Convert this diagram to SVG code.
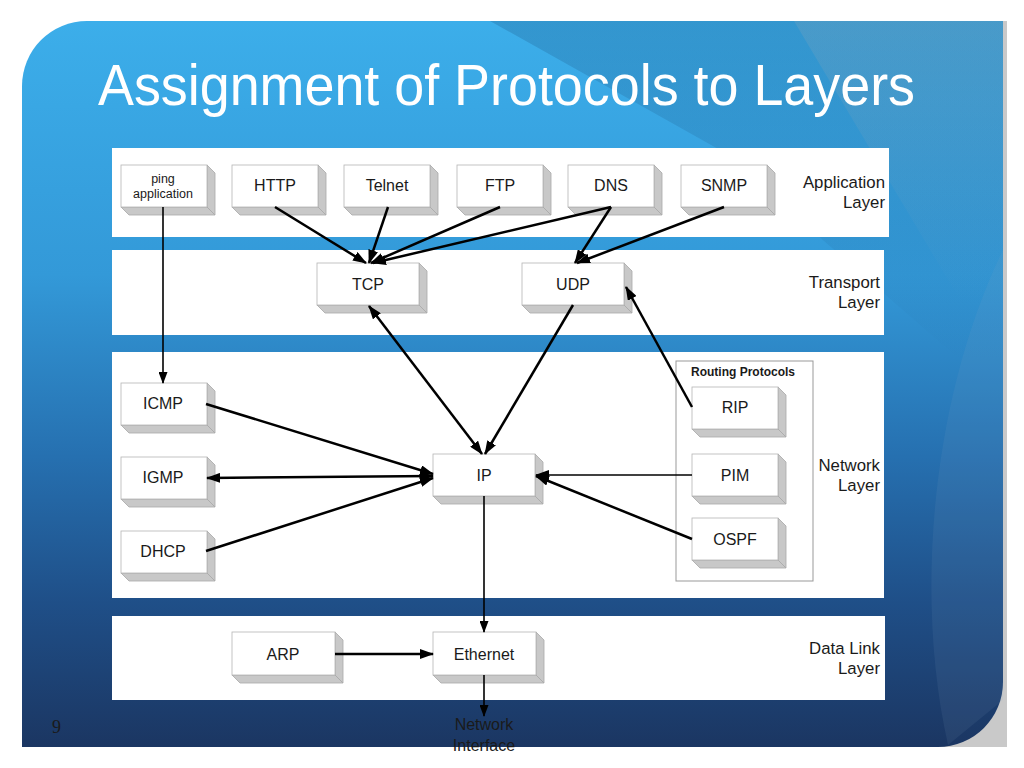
<svg xmlns="http://www.w3.org/2000/svg" xmlns:xlink="http://www.w3.org/1999/xlink" width="1024" height="768" viewBox="0 0 1024 768">
<defs>
<linearGradient id="bg" x1="0" y1="0" x2="0" y2="1">
<stop offset="0" stop-color="#3caeea"/>
<stop offset="0.35" stop-color="#3399d8"/>
<stop offset="0.6" stop-color="#2670b0"/>
<stop offset="0.8" stop-color="#1f4f88"/>
<stop offset="1" stop-color="#1b3662"/>
</linearGradient>
<linearGradient id="ov" gradientUnits="userSpaceOnUse" x1="0" y1="21" x2="0" y2="360">
<stop offset="0" stop-color="#1f5f90" stop-opacity="0.3"/>
<stop offset="0.6" stop-color="#1f5f90" stop-opacity="0.15"/>
<stop offset="1" stop-color="#1f5f90" stop-opacity="0"/>
</linearGradient>
<linearGradient id="ov2" gradientUnits="userSpaceOnUse" x1="0" y1="21" x2="0" y2="300">
<stop offset="0" stop-color="#8aa6b8" stop-opacity="0.25"/>
<stop offset="1" stop-color="#8aa6b8" stop-opacity="0"/>
</linearGradient>
<marker id="arr" markerUnits="userSpaceOnUse" markerWidth="14" markerHeight="10" refX="13" refY="5" orient="auto-start-reverse">
<path d="M0,0 L14,5 L0,10 Z" fill="#000"/>
</marker>
<marker id="arrS" markerUnits="userSpaceOnUse" markerWidth="12" markerHeight="9" refX="11" refY="4.5" orient="auto">
<path d="M0,0 L12,4.5 L0,9 Z" fill="#000"/>
</marker>
<g id="boxA">
<polygon points="86,0 94,8 94,50 86,42" class="side"/>
<polygon points="0,42 86,42 94,50 8,50" class="side"/>
<rect x="0" y="0" width="86" height="42" class="front"/>
</g>
<g id="boxB">
<polygon points="102,0 110,8 110,50 102,42" class="side"/>
<polygon points="0,42 102,42 110,50 8,50" class="side"/>
<rect x="0" y="0" width="102" height="42" class="front"/>
</g>
<g id="boxE">
<polygon points="103,0 111,8 111,51 103,43" class="side"/>
<polygon points="0,43 103,43 111,51 8,51" class="side"/>
<rect x="0" y="0" width="103" height="43" class="front"/>
</g>
</defs>
<style>
.side{fill:#c8c8c8;stroke:#a8a8a8;stroke-width:0.8}
.front{fill:#ffffff;stroke:#b4b4b4;stroke-width:0.8}
.panel{fill:#ffffff}
.lbl{font-family:"Liberation Sans",Arial,sans-serif;font-size:16px;fill:#1a1a1a;text-anchor:middle}
.small{font-family:"Liberation Sans",Arial,sans-serif;font-size:12.5px;fill:#1a1a1a;text-anchor:middle}
.layer{font-family:"Liberation Sans",Arial,sans-serif;font-size:16.8px;fill:#1a1a1a;text-anchor:end}
.thick{stroke:#000;stroke-width:2.5;fill:none}
.thin{stroke:#000;stroke-width:1.6;fill:none}
</style>
<rect x="0" y="0" width="1024" height="768" fill="#ffffff"/>
<rect x="930" y="21" width="77" height="726" fill="#c9c9c9"/>
<path d="M87,21 H1003 V682 A65,65 0 0 1 938,747 H22 V86 A65,65 0 0 1 87,21 Z" fill="url(#bg)"/>
<polygon points="490,21 1003,21 1003,360 960,360 720,150" fill="url(#ov)"/>
<polygon points="794,21 1003,21 1003,300 960,300" fill="url(#ov2)"/>
<path d="M1003,250 C930,400 915,600 948,745 L1003,700 Z" fill="#8aa6c0" opacity="0.1"/>
<text x="98" y="105" font-family="'Liberation Sans',Arial,sans-serif" font-size="58" fill="#ffffff" textLength="817" lengthAdjust="spacingAndGlyphs">Assignment of Protocols to Layers</text>
<g id="panels">
<rect class="panel" x="112" y="148" width="777" height="89"/>
<rect class="panel" x="112" y="250" width="772" height="85"/>
<rect class="panel" x="112" y="352" width="772" height="246"/>
<rect class="panel" x="112" y="616" width="773" height="84"/>
<text class="layer" x="885" y="188">Application</text>
<text class="layer" x="885" y="208">Layer</text>
<text class="layer" x="880" y="288">Transport</text>
<text class="layer" x="880" y="308">Layer</text>
<text class="layer" x="880" y="471">Network</text>
<text class="layer" x="880" y="491">Layer</text>
<text class="layer" x="880" y="654">Data Link</text>
<text class="layer" x="880" y="674">Layer</text>
</g>
<g id="routing-group">
<rect x="676" y="361" width="137" height="220" fill="none" stroke="#999" stroke-width="1"/>
<text x="743" y="376" font-family="'Liberation Sans',Arial,sans-serif" font-size="12px" font-weight="bold" fill="#1a1a1a" text-anchor="middle">Routing Protocols</text>
</g>
<g id="node-ping"><use xlink:href="#boxA" x="121" y="165"/><text class="small" x="163" y="183">ping</text><text class="small" x="163" y="198">application</text></g>
<g id="node-http"><use xlink:href="#boxA" x="232" y="165"/><text class="lbl" x="275" y="191">HTTP</text></g>
<g id="node-telnet"><use xlink:href="#boxA" x="344" y="165"/><text class="lbl" x="387" y="191">Telnet</text></g>
<g id="node-ftp"><use xlink:href="#boxA" x="457" y="165"/><text class="lbl" x="500" y="191">FTP</text></g>
<g id="node-dns"><use xlink:href="#boxA" x="568" y="165"/><text class="lbl" x="611" y="191">DNS</text></g>
<g id="node-snmp"><use xlink:href="#boxA" x="681" y="165"/><text class="lbl" x="724" y="191">SNMP</text></g>
<g id="node-tcp"><use xlink:href="#boxB" x="317" y="263"/><text class="lbl" x="368" y="290">TCP</text></g>
<g id="node-udp"><use xlink:href="#boxB" x="522" y="263"/><text class="lbl" x="573" y="290">UDP</text></g>
<g id="node-icmp"><use xlink:href="#boxA" x="121" y="383"/><text class="lbl" x="163" y="409">ICMP</text></g>
<g id="node-igmp"><use xlink:href="#boxA" x="121" y="457"/><text class="lbl" x="163" y="483">IGMP</text></g>
<g id="node-dhcp"><use xlink:href="#boxA" x="121" y="531"/><text class="lbl" x="163" y="557">DHCP</text></g>
<g id="node-ip"><use xlink:href="#boxB" x="433" y="454"/><text class="lbl" x="484" y="481">IP</text></g>
<g id="node-rip"><use xlink:href="#boxA" x="692" y="387"/><text class="lbl" x="735" y="413">RIP</text></g>
<g id="node-pim"><use xlink:href="#boxA" x="692" y="454"/><text class="lbl" x="735" y="481">PIM</text></g>
<g id="node-ospf"><use xlink:href="#boxA" x="692" y="518"/><text class="lbl" x="735" y="545">OSPF</text></g>
<g id="node-arp"><use xlink:href="#boxE" x="232" y="632"/><text class="lbl" x="283" y="660">ARP</text></g>
<g id="node-ethernet"><use xlink:href="#boxE" x="433" y="632"/><text class="lbl" x="484" y="660">Ethernet</text></g>
<g id="connectors">
<path class="thin" d="M163,207 L163,383" marker-end="url(#arrS)"/>
<path class="thick" d="M275,207 L366,263" marker-end="url(#arr)"/>
<path class="thick" d="M388,207 L369,263" marker-end="url(#arr)"/>
<path class="thick" d="M500,207 L371,263" marker-end="url(#arr)"/>
<path class="thick" d="M611,207 L373,263" marker-end="url(#arr)"/>
<path class="thick" d="M611,207 L575,263" marker-end="url(#arr)"/>
<path class="thick" d="M724,207 L577,263" marker-end="url(#arr)"/>
<path class="thick" d="M369,306 L482,454" marker-start="url(#arr)" marker-end="url(#arr)"/>
<path class="thick" d="M573,305 L485,454" marker-end="url(#arr)"/>
<path class="thick" d="M692,407 L626,287" marker-end="url(#arr)"/>
<path class="thick" d="M206,404 L433,474" marker-end="url(#arr)"/>
<path class="thick" d="M207,478 L433,476" marker-start="url(#arr)" marker-end="url(#arr)"/>
<path class="thick" d="M206,551 L433,478" marker-end="url(#arr)"/>
<path class="thin" d="M692,475 L536,475" marker-end="url(#arr)"/>
<path class="thick" d="M692,539 L536,476" marker-end="url(#arr)"/>
<path class="thin" d="M484,496 L484,632" marker-end="url(#arrS)"/>
<path class="thick" d="M335,654 L433,654" marker-end="url(#arr)"/>
<path class="thin" d="M484,675 L484,716" marker-end="url(#arrS)"/>
</g>
<text class="lbl" x="484" y="730">Network</text>
<text class="lbl" x="484" y="751">Interface</text>
<text x="52" y="733" font-family="'Liberation Serif','Times New Roman',serif" font-size="18" fill="#1a1a1a">9</text>
</svg>
